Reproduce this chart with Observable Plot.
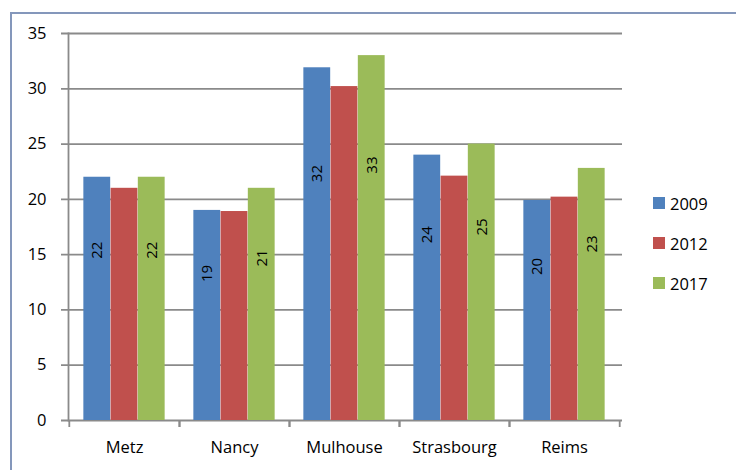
<!DOCTYPE html>
<html><head><meta charset="utf-8">
<script src="https://cdn.jsdelivr.net/npm/d3@7"></script>
<script src="https://cdn.jsdelivr.net/npm/@observablehq/plot@0.6"></script>
<style>
body{margin:0;background:#fff;overflow:hidden;}
#wrap{position:relative;width:736px;height:470px;overflow:hidden;font-family:"Open Sans",sans-serif;color:#000;}
#border{position:absolute;left:10px;top:12px;width:800px;height:600px;border:2px solid #8497bb;box-sizing:border-box;}
#chart{position:absolute;left:0;top:0;}
#legend{position:absolute;left:653px;top:183px;font-size:16.5px;}
.item{display:flex;align-items:center;height:40px;}
.sw{width:12px;height:12px;margin-right:5px;}
</style>
</head><body>
<div id="wrap"><div id="border"></div><div id="chart"></div><div id="legend"></div></div>
<script>
const cities = ["Metz", "Nancy", "Mulhouse", "Strasbourg", "Reims"];
const years = ["2009", "2012", "2017"];
const v2009 = [22, 19, 31.9, 24, 19.9];
const v2012 = [21, 18.9, 30.2, 22.1, 20.2];
const v2017 = [22, 21, 33, 25, 22.8];
const labeledYears = ["2009", "2017"];
const yTicks = [0, 5, 10, 15, 20, 25, 30, 35];
const colors = ["#4f81bd", "#c0504d", "#9bbb59"];

const series = [v2009, v2012, v2017];
const rows = cities.flatMap((c, i) => years.map((y, j) => ({city: c, year: y, value: series[j][i], j})));

const W = 736, H = 470, ml = 68, mr = 116, mt = 33, mb = 50;
const step = (W - ml - mr) / cities.length;
const pad = step * 0.13;
const bw = step * 0.74 / years.length;
const grid = "#8a8a8a";
const fmt = d3.format(".0f");

const marks = [
  Plot.ruleY(yTicks, {stroke: grid, strokeWidth: 1.8, insetLeft: -7, insetRight: -2}),
  Plot.frame({anchor: "left", stroke: grid, strokeWidth: 1.8})
];
years.forEach((y, j) => {
  const sub = rows.filter(d => d.year === y);
  marks.push(Plot.barY(sub, {x: "city", y: "value", fill: "year",
    insetLeft: pad + j * bw, insetRight: pad + (years.length - 1 - j) * bw}));
  if (labeledYears.includes(y)) {
    marks.push(Plot.text(sub, {x: "city", y: d => d.value * 0.7, text: d => fmt(d.value),
      rotate: -90, dx: (j - 1) * bw, fontSize: 15, fill: "#000"}));
  }
});
marks.push(
  Plot.axisY({ticks: yTicks, tickSize: 0, tickPadding: 22, fontSize: 16.5, tickFormat: d => d}),
  Plot.axisX({tickSize: 0, tickPadding: 21, fontSize: 16.5}),
  Plot.axisX({tickSize: 7, text: null, dx: -step / 2, stroke: grid, strokeWidth: 1.8}),
  Plot.axisX({tickSize: 7, text: null, dx: step / 2, stroke: grid, strokeWidth: 1.8})
);

const chart = Plot.plot({
  width: W, height: H,
  marginLeft: ml, marginRight: mr, marginTop: mt, marginBottom: mb,
  style: {fontFamily: "Open Sans", fontSize: "16px", background: "transparent", color: "#000"},
  x: {domain: cities, padding: 0, label: null},
  y: {domain: [0, 35], label: null},
  color: {domain: years, range: colors},
  marks
});
document.getElementById("chart").appendChild(chart);

const lg = document.getElementById("legend");
years.forEach((y, j) => {
  const it = document.createElement("div");
  it.className = "item";
  it.innerHTML = `<div class="sw" style="background:${colors[j]}"></div><span>${y}</span>`;
  lg.appendChild(it);
});
</script>
</body></html>
